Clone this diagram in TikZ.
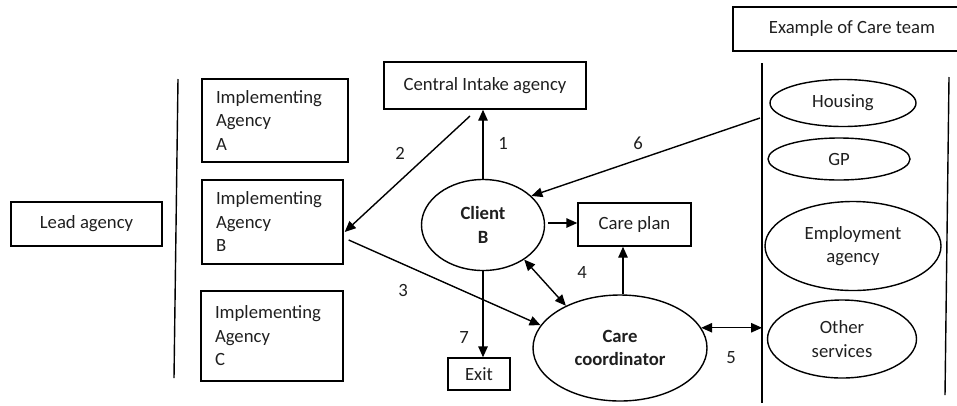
\documentclass[tikz,border=0pt]{standalone}
\usepackage{fontspec}
\setmainfont{Carlito}
\usetikzlibrary{shapes.geometric,arrows.meta,calc}
\begin{document}
\begin{tikzpicture}[x=1pt,y=-1pt,
  every node/.style={font=\fontsize{18.7}{23.5}\selectfont,text=black!88},
  box/.style={draw,rectangle,line width=1.4pt,inner sep=0pt},
  lbox/.style={box,align=left,inner xsep=14pt},
  ell/.style={draw,ellipse,line width=1.4pt,inner sep=0pt,align=center},
  arr/.style={line width=1.4pt,-{Triangle[length=11pt,width=9.5pt]}},
  darr/.style={line width=1.4pt,{Triangle[length=11pt,width=9.5pt]}-{Triangle[length=11pt,width=9.5pt]}},
  vline/.style={line width=1.4pt},
  num/.style={inner sep=0pt}]
\useasboundingbox (0,0) rectangle (957,405);

% left side
\node[box,minimum width=151pt,minimum height=44pt] (lead) at (86.5,224) {Lead agency};
\coordinate (l1) at (178,79);
\coordinate (l2) at (174,378);
\draw[vline] (l1) -- (l2);
\node[lbox,text width=118pt,minimum height=83pt] (implA) at (275,120.5) {Implementing\\Agency\\A};
\node[lbox,text width=113pt,minimum height=84pt] (implB) at (272.5,222) {Implementing\\Agency\\B};
\node[lbox,text width=114pt,minimum height=90pt] (implC) at (272,336) {Implementing\\Agency\\C};

% centre
\node[box,minimum width=202pt,minimum height=47pt] (cia) at (485,85.5) {Central Intake agency};
\node[ell,minimum width=123pt,minimum height=91pt] (client) at (483,225) {\textbf{Client}\\\textbf{B}};
\node[box,minimum width=113pt,minimum height=43pt] (careplan) at (634.5,224.5) {Care plan};
\node[ell,minimum width=174pt,minimum height=106pt] (coord) at (620,348) {\textbf{Care}\\\textbf{coordinator}};
\node[box,minimum width=62pt,minimum height=32pt] (exit) at (479,374) {Exit};

% right side
\node[box,minimum width=238pt,minimum height=44pt] (example) at (852,29) {Example of Care team};
\coordinate (t1) at (762,63);
\coordinate (t2) at (762,403);
\draw[vline] (t1) -- (t2);
\coordinate (r1) at (949,77);
\coordinate (r2) at (945,395);
\draw[vline] (r1) -- (r2);
\node[ell,minimum width=146pt,minimum height=47pt] (housing) at (843,103) {Housing};
\node[ell,minimum width=142pt,minimum height=42pt] (gp) at (839,159) {GP};
\node[ell,minimum width=176pt,minimum height=89pt] (emp) at (853,246) {Employment\\agency};
\node[ell,minimum width=149pt,minimum height=78pt] (other) at (842,339) {Other\\services};

% connectors
\draw[arr] (client.north) -- (client.north |- cia.south);
\coordinate (c2) at (470,116);
\draw[arr] (c2) -- ($(implB.east)+(1,10)$);
\draw[arr] ($(implB.east)+(5,18)$) -- (coord.164);
\draw[darr] (client.-40) -- (coord.142);
\draw[arr] ($(client.east)+(3,-2)$) -- (careplan.west |- {$(client.east)+(3,-2)$});
\draw[arr] ([xshift=3pt]coord.north) -- ([xshift=3pt]coord.north |- careplan.south);
\draw[darr] (coord.14) -- (coord.14 -| t1);
\coordinate (c6) at (760,118);
\draw[arr] (c6) -- (client.31);
\draw[arr] (client.south) -- (client.south |- exit.north);

% labels
\node[num] (n1) at (503,143) {1};
\node[num] (n2) at (400,153) {2};
\node[num] (n3) at (403,290) {3};
\node[num] (n4) at (582,272) {4};
\node[num] (n5) at (731,358) {5};
\node[num] (n6) at (638,143) {6};
\node[num] (n7) at (464,337) {7};
\end{tikzpicture}
\end{document}
